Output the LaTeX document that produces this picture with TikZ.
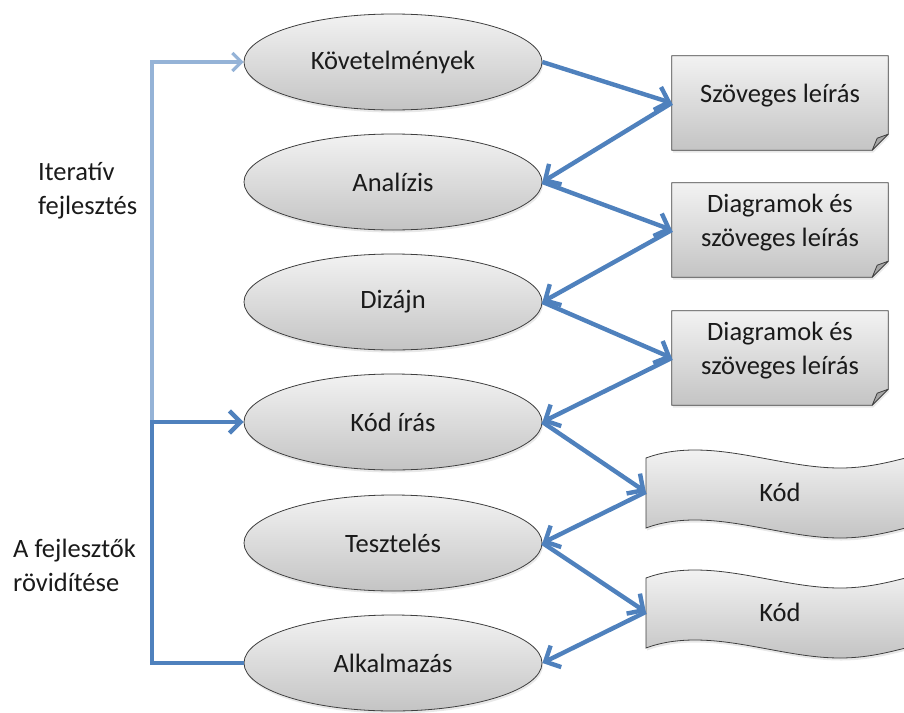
\documentclass[tikz,border=0pt]{standalone}
\usepackage{fontspec}
\setmainfont{Carlito}
\usetikzlibrary{arrows.meta,shapes.geometric,shadows,calc,backgrounds}

\definecolor{flowblue}{HTML}{4F81BD}
\definecolor{iterblue}{HTML}{95B3D7}
\definecolor{outline}{HTML}{3F3F3F}
\definecolor{ink}{HTML}{1A1A1A}
\definecolor{shadetop}{HTML}{F2F2F2}
\definecolor{shadebot}{HTML}{C4C4C4}

\newcommand\diafont{\fontsize{26.5}{34}\selectfont}

\tikzset{
  x=1pt, y=-1pt,
  softshadow/.style={drop shadow={opacity=0.18, shadow xshift=1pt, shadow yshift=-2.5pt}},
  stage/.style={ellipse, draw=outline, line width=0.8pt, minimum width=298pt,
    minimum height=96pt, inner sep=0pt, top color=shadetop, bottom color=shadebot,
    text=ink, font=\diafont, softshadow},
  docbox/.style={rectangle, minimum width=216pt, minimum height=94pt, inner sep=0pt},
  doctext/.style={align=center, text=ink, font=\diafont, inner sep=0pt},
  docfill/.style={draw=outline, line width=0.8pt, top color=shadetop, bottom color=shadebot, softshadow},
  foldfill/.style={draw=outline, line width=0.8pt, fill=black!35, line join=round},
  wavebox/.style={rectangle, minimum width=268pt, minimum height=70pt, inner sep=0pt,
    text=ink, font=\diafont},
  sidetext/.style={align=left, anchor=west, inner sep=0pt, text=ink, font=\diafont},
  flow/.style={draw=flowblue, line width=4.4pt,
    -{Straight Barb[length=12pt, width=24pt]}},
  shortcut/.style={draw=flowblue, line width=4.4pt, line join=miter,
    -{Straight Barb[length=11pt, width=22pt]}},
  iterate/.style={draw=iterblue, line width=3.2pt, line join=miter,
    -{Straight Barb[length=9pt, width=18pt]}},
}

\begin{document}
\begin{tikzpicture}
\useasboundingbox (0,0) rectangle (904,712);

% development stages
\node[stage] (e1) at (393,62)  {Követelmények};
\node[stage] (e2) at (393,182) {Analízis};
\node[stage] (e3) at (393,302) {Dizájn};
\node[stage] (e4) at (393,422) {Kód írás};
\node[stage] (e5) at (393,543) {Tesztelés};
\node[stage] (e6) at (393,663) {Alkalmazás};

% documents produced by the stages
\node[docbox] (d1) at (780,103) {};
\node[docbox] (d2) at (780,230) {};
\node[docbox] (d3) at (780,358) {};
\node[doctext] (d1t) at ([yshift=7pt]d1.center) {Szöveges leírás};
\node[doctext] (d2t) at ([yshift=7pt]d2.center) {Diagramok és\\szöveges leírás};
\node[doctext] (d3t) at ([yshift=7pt]d3.center) {Diagramok és\\szöveges leírás};

% code banners
\node[wavebox] (w1) at (780,492) {Kód};
\node[wavebox] (w2) at (780,612) {Kód};

\begin{scope}[on background layer]
  \foreach \d in {d1,d2,d3} {
    \path[docfill] (\d.north west) -- (\d.north east)
      -- ($(\d.south east)+(0,-16)$) -- ($(\d.south east)+(-16,0)$)
      -- (\d.south west) -- cycle;
    \path[foldfill] ($(\d.south east)+(0,-16)$) -- ($(\d.south east)+(-16,0)$)
      -- ($(\d.south east)+(-11,-12)$) -- cycle;
  }
  \begin{scope}
    \clip (0,0) rectangle (904,712);
    \foreach \dy in {0,120} {
      \path[docfill, shift={(0,\dy)}]
        (646,458) .. controls (662,452) and (679,450) .. (695,450)
        .. controls (743,450) and (792,468) .. (840,468)
        .. controls (872,468) and (896,460) .. (918,455)
        -- (918,525)
        .. controls (896,530) and (872,538) .. (840,538)
        .. controls (792,538) and (743,520) .. (695,520)
        .. controls (679,520) and (662,522) .. (646,528)
        -- cycle;
    }
  \end{scope}
\end{scope}

% side labels
\node[sidetext] (lab1) at (38,191) {Iteratív\\fejlesztés};
\node[sidetext] (lab2) at (13,565) {A fejlesztők\\rövidítése};

% feedback loops on the left
\coordinate (rail) at (152,0);
\draw[iterate] (rail |- e4.west) |- (e1.west);
\draw[shortcut] (e6.west) -| (rail |- e4.west) -- (e4.west);

% stage to artefact flow
\draw[flow] (e1.east) -- (d1.west);
\draw[flow] (d1.west) -- (e2.east);
\draw[flow] (e2.east) -- (d2.west);
\draw[flow] (d2.west) -- (e3.east);
\draw[flow] (e3.east) -- (d3.west);
\draw[flow] (d3.west) -- (e4.east);
\draw[flow] (e4.east) -- (w1.west);
\draw[flow] (w1.west) -- (e5.east);
\draw[flow] (e5.east) -- (w2.west);
\draw[flow] (w2.west) -- (e6.east);
\end{tikzpicture}
\end{document}
